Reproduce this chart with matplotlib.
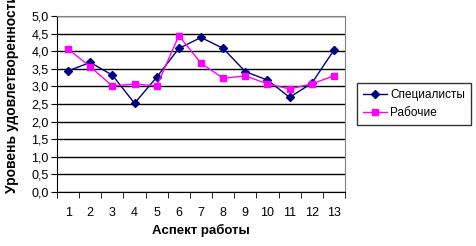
import matplotlib
matplotlib.use("Agg")
import matplotlib.pyplot as plt
from matplotlib.ticker import FixedLocator

categories = list(range(1, 14))
specialists = [3.44, 3.68, 3.32, 2.52, 3.26, 4.08, 4.39, 4.08, 3.42, 3.18, 2.69, 3.09, 4.03]
workers = [4.06, 3.56, 3.01, 3.07, 3.01, 4.44, 3.66, 3.23, 3.30, 3.07, 2.93, 3.07, 3.30]
y_ticks = [0.0, 0.5, 1.0, 1.5, 2.0, 2.5, 3.0, 3.5, 4.0, 4.5, 5.0]

plt.rcParams['font.family'] = ['Liberation Sans', 'DejaVu Sans']

fig = plt.figure(figsize=(4.76, 2.46), dpi=100)
ax = fig.add_axes([57/476, 1-192/246, (345-57)/476, (192-16)/246])

ax.plot(categories, specialists, color='#000080', marker='D', markersize=4,
        linewidth=1, label='Специалисты')
ax.plot(categories, workers, color='#FF00FF', marker='s', markersize=5,
        linewidth=1, label='Рабочие')

ax.set_xlim(0.5, 13.5)
ax.set_ylim(0, 5)
ax.set_yticks(y_ticks)
ax.set_yticklabels([f"{v:.1f}".replace('.', ',') for v in y_ticks], fontsize=9)
ax.set_xticks(categories)
ax.set_xticklabels([str(c) for c in categories], fontsize=9)
ax.tick_params(axis='x', which='major', length=0, pad=11)
ax.xaxis.set_minor_locator(FixedLocator([i + 0.5 for i in range(0, 14)]))
ax.tick_params(axis='x', which='minor', length=4, direction='out', color='black')
ax.tick_params(axis='y', length=4, direction='out', pad=2)

ax.grid(axis='y', color='black', linewidth=1)
ax.set_axisbelow(True)
for s in ['top', 'right']:
    ax.spines[s].set_color('#808080')
for s in ['left', 'bottom']:
    ax.spines[s].set_color('black')

fig.text(201/476, 1-230/246, 'Аспект работы', ha='center', va='center',
         fontsize=9.5, fontweight='bold')
fig.text(12.5/476, 1-193/246, 'Уровень удовлетворенности', rotation=90,
         ha='center', va='bottom', fontsize=10, fontweight='bold')

leg = fig.legend(loc='upper left', bbox_to_anchor=(357/476, 1-83/246),
                 fontsize=8.5, frameon=True, fancybox=False, edgecolor='black',
                 borderpad=0.5, handlelength=2.0, handletextpad=0.3,
                 labelspacing=0.5, borderaxespad=0)
leg.get_frame().set_linewidth(1)

fig.savefig('out.png', dpi=100)
